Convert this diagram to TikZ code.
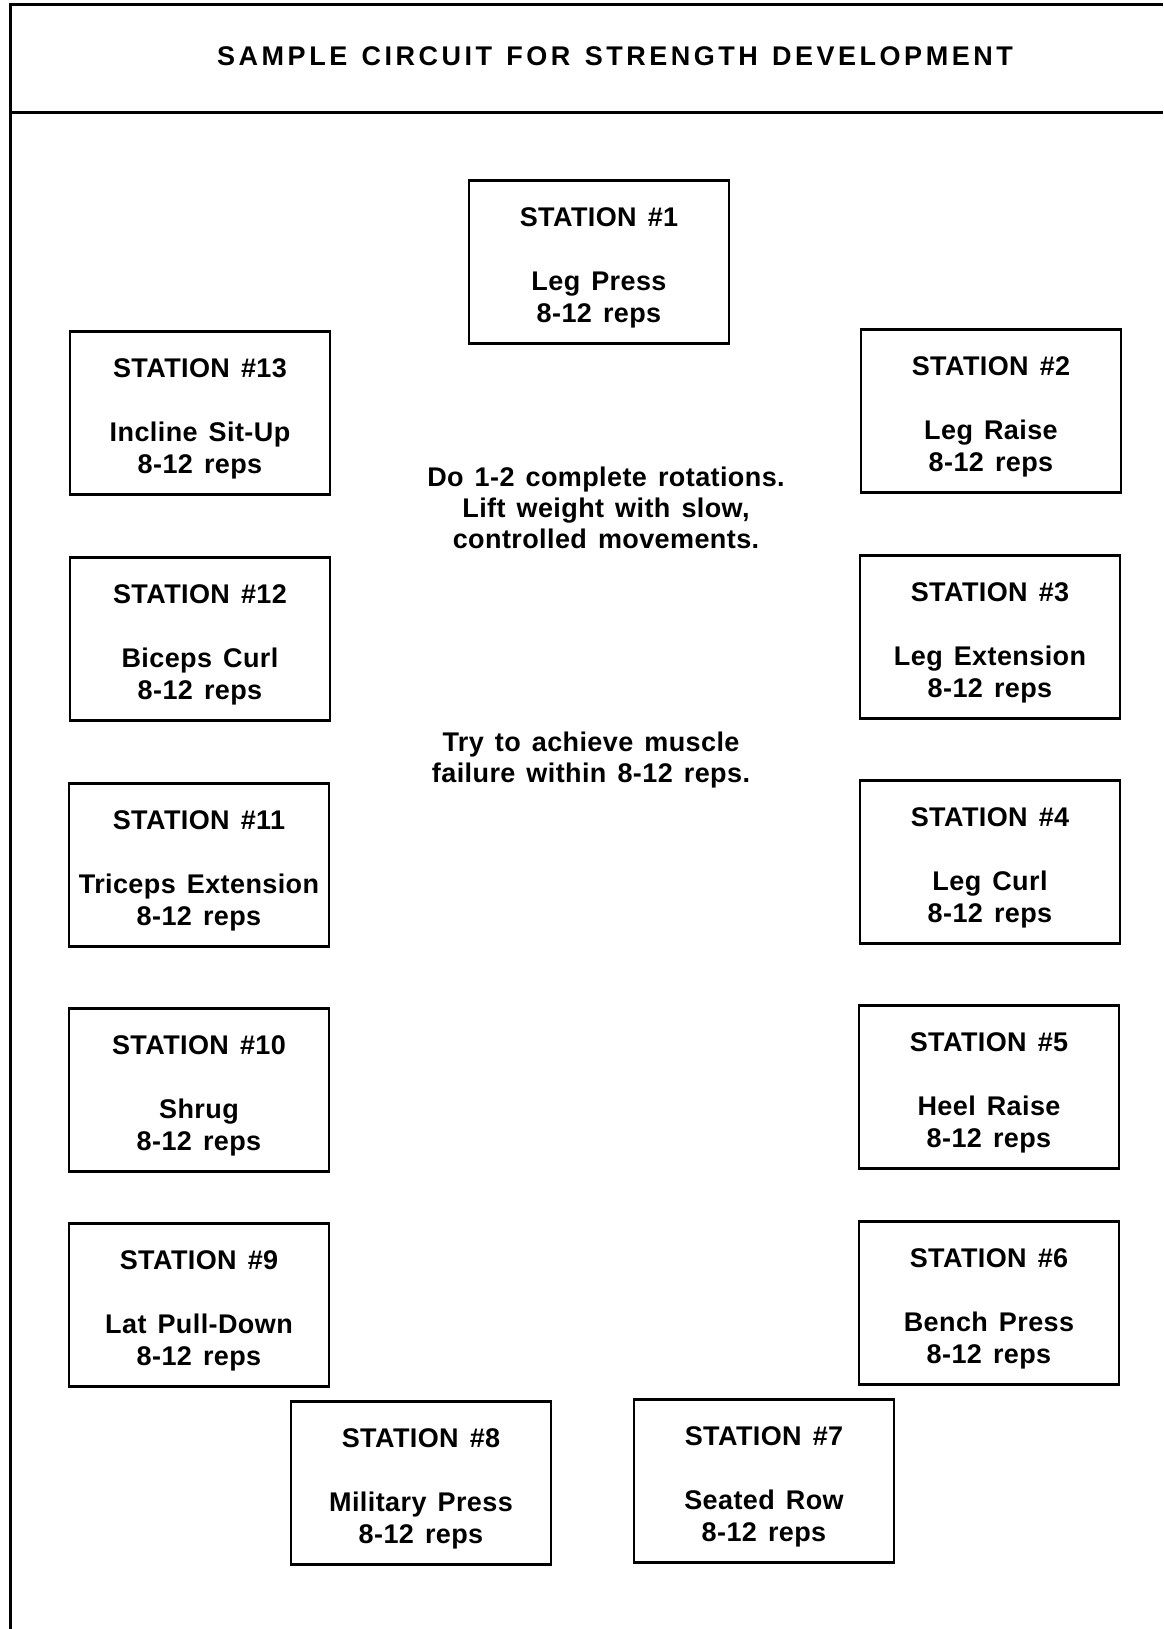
\documentclass[tikz,border=0pt]{standalone}
\usepackage{fontspec}
\setmainfont{Liberation Sans}[LetterSpace=1.5,WordSpace=1.4]
\newfontfamily\titlefont{Liberation Sans}[LetterSpace=13,WordSpace=1.3]
\newcommand\stn[2]{\rule{0pt}{31pt}STATION \##1\\[32pt]#2\\8-12 reps}

\begin{document}
\begin{tikzpicture}[x=1pt,y=-1pt,
  station/.style={draw, line width=2.4pt, minimum width=260pt, minimum height=163pt,
    align=center, font=\bfseries\fontsize{27}{32}\selectfont},
  note/.style={align=center, font=\bfseries\fontsize{27}{31}\selectfont}]
  \useasboundingbox (0,0) rectangle (1163,1629);
  % frame and heading
  \draw[line width=3pt] (1163,5) -- (10,5) -- (10,1629);
  \draw[line width=3pt] (10,113) -- (1163,113);
  \node[font=\titlefont\bfseries\fontsize{27}{30}\selectfont] (title) at (615,56)
    {SAMPLE CIRCUIT FOR STRENGTH DEVELOPMENT};
  % stations, clockwise from the top
  \node[station] (s1) at (599,262) {\stn{1}{Leg Press}};
  \node[station] (s2) at (991,411) {\stn{2}{Leg Raise}};
  \node[station] (s3) at (990,637) {\stn{3}{Leg Extension}};
  \node[station] (s4) at (990,862) {\stn{4}{Leg Curl}};
  \node[station] (s5) at (989,1087) {\stn{5}{Heel Raise}};
  \node[station] (s6) at (989,1303) {\stn{6}{Bench Press}};
  \node[station] (s7) at (764,1481) {\stn{7}{Seated Row}};
  \node[station] (s8) at (421,1483) {\stn{8}{Military Press}};
  \node[station] (s9) at (199,1305) {\stn{9}{Lat Pull-Down}};
  \node[station] (s10) at (199,1090) {\stn{10}{Shrug}};
  \node[station] (s11) at (199,865) {\stn{11}{Triceps Extension}};
  \node[station] (s12) at (200,639) {\stn{12}{Biceps Curl}};
  \node[station] (s13) at (200,413) {\stn{13}{Incline Sit-Up}};
  % instructions in the middle
  \node[note] (rotations) at (606,508) {Do 1-2 complete rotations.\\Lift weight with slow,\\controlled movements.};
  \node[note] (failure) at (591,760) {Try to achieve muscle\\failure within 8-12 reps.};
\end{tikzpicture}
\end{document}
